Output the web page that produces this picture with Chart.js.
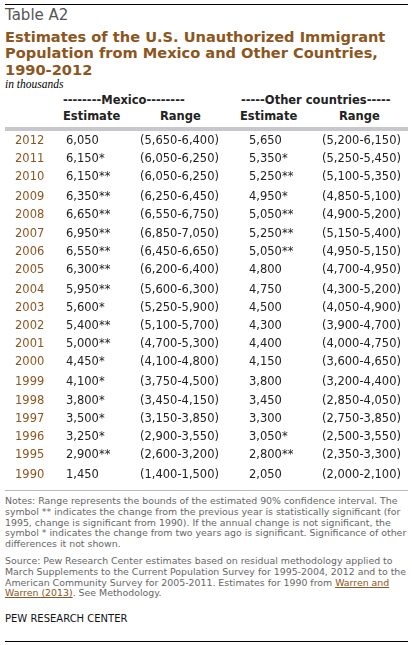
<!DOCTYPE html>
<html><head><meta charset="utf-8">
<script src="https://cdn.jsdelivr.net/npm/chart.js@4"></script>
<style>
body{margin:0;width:412px;height:645px;background:#fff;font-family:"DejaVu Sans",Verdana,sans-serif;position:relative;overflow:hidden}
.a{position:absolute;white-space:nowrap}
#rule1{left:5px;top:4px;width:403px;height:1px;background:#000}
#tag{left:5px;top:6px;font-size:15px;color:#555}
#title{left:5px;top:29px;font-size:14.6px;font-weight:bold;color:#8c5620;line-height:16.3px}
#sub{left:5px;top:78px;font-family:"Liberation Serif",serif;font-style:italic;font-size:11.5px;color:#000}
.h{font-size:11.5px;font-weight:bold;color:#222}
#bar{left:5px;top:127px;width:403px;height:4px;background:#c8c8cc}
#cv{position:absolute;left:0;top:131px}
#notes{left:5px;top:496px;font-size:9.4px;color:#666;line-height:10.8px;white-space:normal;width:406px}
#notes a{color:#8c5620}
#pew{left:5px;top:613px;font-size:10px;color:#111}
#rule2{left:5px;top:641px;width:403px;height:1px;background:#000}
</style></head><body>
<div class="a" id="rule1"></div>
<div class="a" id="tag">Table A2</div>
<div class="a" id="title">Estimates of the U.S. Unauthorized Immigrant<br>Population from Mexico and Other Countries,<br>1990-2012</div>
<div class="a" id="sub">in thousands</div>
<div class="a h" style="left:63px;top:93px">--------Mexico--------</div>
<div class="a h" style="left:241px;top:93px">-----Other countries-----</div>
<div class="a h" style="left:63px;top:109px">Estimate</div>
<div class="a h" style="left:160px;top:109px">Range</div>
<div class="a h" style="left:240px;top:109px">Estimate</div>
<div class="a h" style="left:339px;top:109px">Range</div>
<div class="a" id="bar"></div>
<canvas id="cv" width="412" height="361" style="width:412px;height:361px"></canvas>
<div class="a" id="notes">Notes: Range represents the bounds of the estimated 90% confidence interval. The symbol ** indicates the change from the previous year is statistically significant (for 1995, change is significant from 1990). If the annual change is not significant, the symbol * indicates the change from two years ago is significant. Significance of other differences it not shown.<div style="height:6px"></div>Source: Pew Research Center estimates based on residual methodology applied to March Supplements to the Current Population Survey for 1995-2004, 2012 and to the American Community Survey for 2005-2011. Estimates for 1990 from <a href="#" style="text-decoration:underline">Warren and Warren (2013)</a>. See Methodology.</div>
<div class="a" id="pew">PEW RESEARCH CENTER</div>
<div class="a" id="rule2"></div>
<script>
const years = ["2012","2011","2010","2009","2008","2007","2006","2005","2004","2003","2002","2001","2000","1999","1998","1997","1996","1995","1990"];
const groups = [0,0,0,1,1,1,1,1,2,2,2,2,2,3,3,3,3,3,4];
const mexicoEstimate = ["6,050","6,150*","6,150**","6,350**","6,650**","6,950**","6,550**","6,300**","5,950**","5,600*","5,400**","5,000**","4,450*","4,100*","3,800*","3,500*","3,250*","2,900**","1,450"];
const mexicoRange = ["(5,650-6,400)","(6,050-6,250)","(6,050-6,250)","(6,250-6,450)","(6,550-6,750)","(6,850-7,050)","(6,450-6,650)","(6,200-6,400)","(5,600-6,300)","(5,250-5,900)","(5,100-5,700)","(4,700-5,300)","(4,100-4,800)","(3,750-4,500)","(3,450-4,150)","(3,150-3,850)","(2,900-3,550)","(2,600-3,200)","(1,400-1,500)"];
const otherEstimate = ["5,650","5,350*","5,250**","4,950*","5,050**","5,250**","5,050**","4,800","4,750","4,500","4,300","4,400","4,150","3,800","3,450","3,300","3,050*","2,800**","2,050"];
const otherRange = ["(5,200-6,150)","(5,250-5,450)","(5,100-5,350)","(4,850-5,100)","(4,900-5,200)","(5,150-5,400)","(4,950-5,150)","(4,700-4,950)","(4,300-5,200)","(4,050-4,900)","(3,900-4,700)","(4,000-4,750)","(3,600-4,650)","(3,200-4,400)","(2,850-4,050)","(2,750-3,850)","(2,500-3,550)","(2,350-3,300)","(2,000-2,100)"];

const cols = [years, mexicoEstimate, mexicoRange, otherEstimate, otherRange];
const rowPos = years.map((y,i)=>i + 0.12*groups[i]);
const pts = [];
cols.forEach((c,ci)=>c.forEach((t,i)=>pts.push({x:ci,y:rowPos[i],t:t,c:ci})));

const textPlugin = {
  id:'cellText',
  afterDatasetsDraw(chart){
    const ctx = chart.ctx, ys = chart.scales.y;
    const anchors = [15,66,140,249,322];
    ctx.save();
    ctx.font = '11.5px "DejaVu Sans", Verdana, sans-serif';
    ctx.textBaseline = 'middle';
    pts.forEach(p=>{
      ctx.fillStyle = p.c===0 ? '#8c5620' : '#222';
      ctx.fillText(p.t, anchors[p.c], ys.getPixelForValue(p.y));
    });
    const yb = ys.getPixelForValue(rowPos[rowPos.length-1]) + 15;
    ctx.fillStyle = '#bbb';
    ctx.fillRect(5, Math.round(yb), 403, 1);
    ctx.restore();
  }
};

new Chart(document.getElementById('cv'), {
  type:'scatter',
  data:{datasets:[{data:pts, pointRadius:0, pointHoverRadius:0}]},
  options:{
    responsive:false, animation:false, devicePixelRatio:1,
    layout:{padding:0},
    plugins:{legend:{display:false}, tooltip:{enabled:false}},
    scales:{
      x:{type:'linear', display:false, min:-0.5, max:4.5},
      y:{type:'linear', display:false, reverse:true, min:-0.553, max:19.42}
    }
  },
  plugins:[textPlugin]
});
</script>
</body></html>
